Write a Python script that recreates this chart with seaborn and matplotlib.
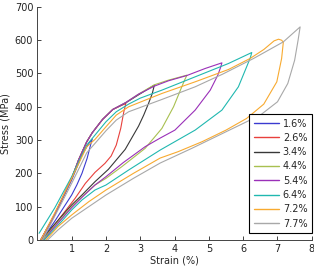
import pandas as pd
import matplotlib
matplotlib.use("Agg")
import matplotlib.pyplot as plt
import seaborn as sns

# loop labels (max strain) and colours
loops = ["1.6%", "2.6%", "3.4%", "4.4%", "5.4%", "6.4%", "7.2%", "7.7%"]
colors = ["#3a3ad0", "#e8403c", "#383838", "#a8c050", "#9a30b8", "#20b8b0", "#f8aa30", "#a8a8a8"]

# loading branches (strain %, stress MPa)
load_strain_1 = [0.1, 0.5, 1.0, 1.3, 1.5, 1.6]
load_stress_1 = [0, 75, 180, 255, 290, 303]
load_strain_2 = [0.1, 0.5, 1.0, 1.2, 1.44, 1.6, 1.9, 2.2, 2.58]
load_stress_2 = [0, 75, 185, 240, 295, 322, 362, 392, 410]
load_strain_3 = [0.1, 0.5, 1.0, 1.2, 1.44, 1.6, 1.9, 2.2, 2.58, 2.95, 3.41]
load_stress_3 = [0, 75, 185, 240, 295, 322, 362, 392, 412, 436, 465]
load_strain_4 = [0.1, 0.5, 1.0, 1.2, 1.44, 1.6, 1.9, 2.2, 2.58, 2.95, 3.41, 3.82, 4.36]
load_stress_4 = [0, 75, 185, 240, 295, 322, 362, 392, 413, 438, 466, 480, 495]
load_strain_5 = [0.1, 0.5, 1.0, 1.2, 1.44, 1.6, 1.9, 2.2, 2.58, 2.95, 3.41, 3.82, 4.36, 4.89, 5.38]
load_stress_5 = [0, 75, 185, 240, 295, 322, 362, 392, 413, 438, 462, 478, 494, 515, 532]
load_strain_6 = [0.05, 0.5, 1.0, 1.44, 1.68, 2.0, 2.3, 2.66, 3.0, 3.63, 4.6, 5.57, 6.25]
load_stress_6 = [20, 95, 190, 285, 315, 355, 385, 408, 426, 450, 490, 530, 563]
load_strain_7 = [0.1, 0.5, 1.0, 1.44, 1.68, 2.0, 2.3, 2.66, 3.63, 4.6, 5.57, 6.2, 6.6, 6.9, 7.03]
load_stress_7 = [0, 80, 185, 280, 302, 340, 375, 400, 440, 475, 512, 545, 572, 598, 603]
load_strain_8 = [0.15, 0.5, 1.0, 1.44, 1.68, 2.0, 2.3, 2.66, 3.63, 4.6, 5.4, 6.3, 7.17, 7.66]
load_stress_8 = [0, 70, 170, 262, 290, 328, 360, 385, 422, 460, 498, 545, 595, 640]

# unloading branches
unload_strain_1 = [1.55, 1.45, 1.3, 1.15, 1.0, 0.75, 0.5, 0.3, 0.12]
unload_stress_1 = [285, 245, 200, 165, 135, 95, 55, 25, 0]
unload_strain_2 = [2.52, 2.43, 2.3, 2.15, 1.97, 1.68, 1.4, 1.1, 0.8, 0.5, 0.15]
unload_stress_2 = [385, 335, 285, 252, 230, 203, 170, 125, 85, 45, 0]
unload_strain_3 = [3.35, 3.24, 3.1, 2.95, 2.56, 2.07, 1.68, 1.3, 1.0, 0.7, 0.4, 0.15]
unload_stress_3 = [440, 410, 375, 342, 272, 212, 175, 135, 105, 70, 35, 0]
unload_strain_4 = [4.3, 4.21, 3.97, 3.63, 3.14, 2.46, 2.0, 1.68, 1.3, 1.0, 0.7, 0.4, 0.15]
unload_stress_4 = [482, 460, 400, 335, 275, 220, 185, 165, 130, 100, 65, 30, 0]
unload_strain_5 = [5.34, 5.26, 5.04, 4.6, 4.01, 3.58, 3.14, 2.5, 2.0, 1.68, 1.3, 1.0, 0.7, 0.4, 0.2]
unload_stress_5 = [518, 495, 450, 390, 330, 306, 280, 232, 190, 165, 128, 97, 62, 27, 0]
unload_strain_6 = [6.21, 6.12, 5.86, 5.38, 4.6, 3.58, 2.66, 2.0, 1.68, 1.3, 1.0, 0.7, 0.4, 0.2]
unload_stress_6 = [548, 525, 460, 390, 330, 270, 210, 165, 150, 120, 90, 55, 22, 0]
unload_strain_7 = [7.12, 7.17, 7.12, 6.98, 6.6, 6.1, 5.5, 4.8, 4.1, 3.58, 2.8, 2.0, 1.5, 1.0, 0.6, 0.25]
unload_stress_7 = [600, 594, 545, 475, 408, 365, 330, 295, 265, 246, 200, 150, 115, 75, 40, 0]
unload_strain_8 = [7.6, 7.5, 7.3, 7.0, 6.5, 5.9, 5.2, 4.5, 3.58, 2.8, 2.0, 1.5, 1.0, 0.6, 0.3]
unload_stress_8 = [600, 540, 470, 415, 375, 345, 310, 275, 231, 185, 135, 100, 65, 30, 0]

strains = [(load_strain_1, unload_strain_1), (load_strain_2, unload_strain_2),
           (load_strain_3, unload_strain_3), (load_strain_4, unload_strain_4),
           (load_strain_5, unload_strain_5), (load_strain_6, unload_strain_6),
           (load_strain_7, unload_strain_7), (load_strain_8, unload_strain_8)]
stresses = [(load_stress_1, unload_stress_1), (load_stress_2, unload_stress_2),
            (load_stress_3, unload_stress_3), (load_stress_4, unload_stress_4),
            (load_stress_5, unload_stress_5), (load_stress_6, unload_stress_6),
            (load_stress_7, unload_stress_7), (load_stress_8, unload_stress_8)]

rows = []
for name, (ls, us), (lt, ut) in zip(loops, strains, stresses):
    for i, (e, s) in enumerate(zip(ls + us, lt + ut)):
        rows.append({"loop": name, "step": i, "strain": e, "stress": s})
df = pd.DataFrame(rows)

sns.set_style("ticks")
plt.rcParams["font.family"] = ["DejaVu Sans"]

fig = plt.figure(figsize=(3.14, 2.66), dpi=100)
ax = fig.add_axes([0.119, 0.098, 0.874, 0.876])

sns.lineplot(data=df, x="strain", y="stress", hue="loop", hue_order=loops,
             palette=colors, sort=False, estimator=None, linewidth=0.8, ax=ax)
for line in ax.get_lines():
    line.set_solid_joinstyle("round")

ax.set_xlim(0, 8)
ax.set_ylim(0, 700)
ax.set_xticks(range(1, 9))
ax.set_yticks(range(0, 701, 100))
ax.tick_params(direction="in", length=3, width=0.6, labelsize=7, colors="#222222", pad=3)
ax.set_xlabel("Strain (%)", fontsize=7, labelpad=1)
ax.set_ylabel("Stress (MPa)", fontsize=7, labelpad=3)
sns.despine(ax=ax)
for sp in ["left", "bottom"]:
    ax.spines[sp].set_linewidth(0.7)
    ax.spines[sp].set_color("#444444")

leg = ax.legend(loc="lower right", bbox_to_anchor=(1.0, 0.03), fontsize=7,
                frameon=True, fancybox=False, edgecolor="black", framealpha=1,
                handlelength=2.6, labelspacing=0.44, borderaxespad=0,
                borderpad=0.45, handletextpad=0.4)
leg.get_frame().set_linewidth(0.8)
for line in leg.get_lines():
    line.set_linewidth(1.0)

fig.savefig("out.png", dpi=100)
